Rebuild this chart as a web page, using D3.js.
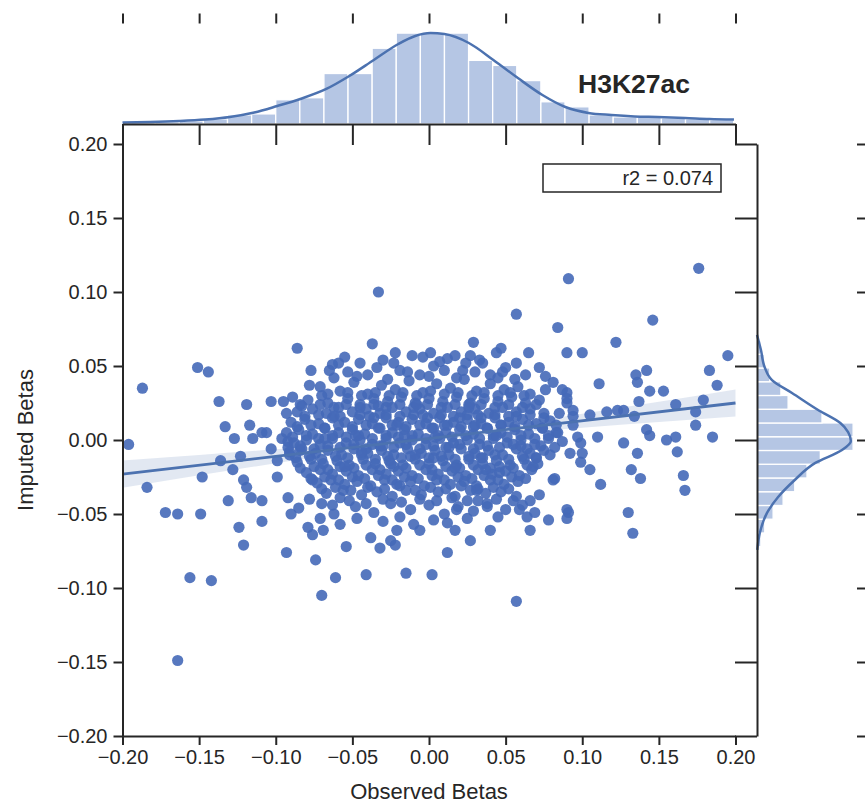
<!DOCTYPE html>
<html>
<head>
<meta charset="utf-8">
<script src="https://cdn.jsdelivr.net/npm/d3@7"></script>
<style>
  body { margin: 0; background: #fff; }
  text { font-family: "Liberation Sans", Arial, sans-serif; fill: #262626; }
</style>
</head>
<body>
<svg id="chart" width="865" height="805"></svg>
<script>
// ---- data -------------------------------------------------------------
const tickValues = [-0.20, -0.15, -0.10, -0.05, 0.00, 0.05, 0.10, 0.15, 0.20];
const xLabel = "Observed Betas";
const yLabel = "Imputed Betas";
const markTitle = "H3K27ac";
const r2Text = "r2 = 0.074";

// observed (x) / imputed (y) beta pairs
const points = [
  [0.176,0.116],[0.091,0.109],[-0.033,0.100],[0.057,0.085],[0.146,0.081],[0.084,0.076],[0.122,0.066],[0.090,0.059],[0.100,0.059],[0.195,0.057],
  [0.142,0.047],[0.135,0.044],[0.183,0.047],[0.111,0.038],[0.136,0.039],[0.144,0.033],[0.153,0.033],[0.188,0.037],[0.090,0.032],[0.090,0.025],
  [0.137,0.026],[0.161,0.024],[0.179,0.027],[0.174,0.019],[0.085,0.018],[0.094,0.016],[0.105,0.017],[0.116,0.019],[0.123,0.020],[0.127,0.020],
  [0.134,0.016],[0.094,0.010],[0.174,0.010],[0.142,0.007],[0.144,0.003],[0.110,0.002],[0.127,-0.002],[0.155,0.000],[0.161,0.002],[0.185,0.002],
  [0.099,-0.002],[0.092,-0.009],[0.136,-0.009],[0.162,-0.008],
  [0.132,-0.020],[0.138,-0.026],[0.166,-0.024],[0.167,-0.034],[0.130,-0.049],[0.133,-0.063],[0.091,-0.049],[0.105,-0.020],[0.112,-0.030],
  [0.078,-0.054],[0.057,-0.109],[0.066,-0.061],[0.072,-0.037],[0.082,-0.026],[0.099,-0.015],
  [0.002,-0.091],[-0.015,-0.090],[-0.041,-0.091],[-0.070,-0.105],[-0.061,-0.093],[-0.054,-0.072],[-0.032,-0.073],[-0.022,-0.071],[0.012,-0.076],
  [0.027,-0.068],[0.040,-0.061],[0.017,-0.061],[-0.006,-0.061],[-0.058,-0.057],[-0.076,-0.064],[-0.093,-0.076],[-0.074,-0.081],
  [-0.109,-0.055],[-0.116,-0.039],[-0.109,-0.041],[-0.131,-0.041],[-0.092,-0.039],[-0.124,-0.059],[-0.121,-0.071],[-0.149,-0.050],[-0.172,-0.049],
  [-0.164,-0.050],[-0.156,-0.093],[-0.142,-0.095],[-0.164,-0.149],[-0.184,-0.032],[-0.196,-0.003],[-0.187,0.035],[-0.151,0.049],[-0.144,0.046],
  [-0.137,0.026],[-0.119,0.024],[-0.103,0.026],[-0.095,0.026],[-0.089,0.029],[-0.093,0.018],[-0.133,0.009],[-0.117,0.010],[-0.109,0.005],
  [-0.106,0.005],[-0.127,0.001],[-0.115,0.001],[-0.096,0.001],[-0.092,-0.001],[-0.103,-0.006],[-0.123,-0.011],[-0.099,-0.014],[-0.091,-0.010],
  [-0.136,-0.014],[-0.148,-0.025],[-0.128,-0.020],[-0.121,-0.027],[-0.119,-0.032],[-0.099,-0.025],
  [-0.086,0.062],[-0.037,0.065],[0.029,0.066],[0.065,0.059],[-0.063,0.051],[-0.055,0.056],[-0.047,0.043],[-0.030,0.054],[-0.022,0.059],
  [-0.019,0.047],[-0.011,0.057],[-0.006,0.044],[0.001,0.059],[0.007,0.053],[0.017,0.057],[0.022,0.047],[0.033,0.054],[0.040,0.044],
  [0.044,0.059],[0.050,0.049],[0.056,0.041],[0.072,0.049],[0.081,0.039],[0.076,0.034],[-0.078,0.037],[-0.070,0.030],[-0.084,0.024],
  [0.047,0.062],[-0.077,0.047],[-0.065,0.047],[-0.059,0.052],[-0.023,0.052],[-0.004,0.056],[0.012,0.055],[0.027,0.057],[0.035,0.052],
  [0.048,0.046],[0.057,0.052],[0.076,0.043],[0.087,0.034],[0.090,0.028],
  [-0.084,-0.007],[-0.076,-0.027],[-0.058,-0.039],[-0.079,-0.059],[-0.069,-0.061],[-0.071,-0.053],[-0.038,-0.066],[-0.025,-0.068],[-0.021,-0.061],
  [-0.010,-0.057],[-0.019,-0.052],[0.012,-0.056],[0.018,-0.047],[0.025,-0.041],[0.031,-0.034],[0.038,-0.045],[0.046,-0.022],[0.055,-0.041],
  [0.059,-0.047],[0.064,-0.052],[0.066,-0.041],[0.068,-0.018],[0.081,-0.027],[0.090,-0.047],[0.090,-0.053],[0.100,-0.009],[0.097,0.002],
  [0.084,0.005],[0.094,0.020],
  // upper and lower fringe of the cloud
  [-0.062,0.042],[-0.053,0.046],[-0.040,0.044],[-0.027,0.041],[-0.014,0.046],[0.000,0.043],[0.010,0.047],[0.018,0.042],[0.030,0.046],
  [0.045,0.042],[0.063,0.044],[-0.034,0.049],[0.003,0.050],[0.024,0.052],[-0.045,0.052],
  [-0.078,-0.040],[-0.063,-0.044],[-0.052,-0.041],[-0.041,-0.043],[-0.030,-0.040],[-0.018,-0.042],[-0.006,-0.040],[0.005,-0.041],[0.015,-0.039],
  [0.032,-0.041],[0.044,-0.040],[-0.047,-0.053],[-0.030,-0.055],[0.003,-0.054],[0.025,-0.053],[0.045,-0.052],[-0.090,-0.050],
  // central cloud
  [-0.071,0.036],[-0.058,0.033],[-0.049,0.039],[-0.040,0.031],[-0.031,0.037],[-0.022,0.034],[-0.013,0.040],[-0.004,0.032],[0.005,0.038],
  [0.014,0.035],[0.023,0.041],[0.031,0.033],[0.040,0.038],[0.049,0.034],[0.058,0.036],[0.066,0.031],
  [-0.066,0.031],[-0.053,0.032],[-0.044,0.030],[-0.035,0.032],[-0.026,0.030],[-0.017,0.032],[-0.008,0.030],[0.001,0.033],[0.010,0.031],
  [0.019,0.032],[0.028,0.030],[0.036,0.032],[0.045,0.030],[0.053,0.032],[0.062,0.030],
  [-0.079,0.027],[-0.066,0.025],[-0.053,0.028],[-0.045,0.024],[-0.036,0.028],[-0.027,0.026],[-0.018,0.029],[-0.009,0.025],[0.000,0.028],
  [0.009,0.026],[0.018,0.029],[0.027,0.025],[0.036,0.028],[0.045,0.026],[0.054,0.029],[0.063,0.025],[0.072,0.027],
  [-0.083,0.023],[-0.071,0.024],[-0.062,0.022],[-0.054,0.024],[-0.045,0.022],[-0.036,0.024],[-0.028,0.022],[-0.019,0.024],[-0.010,0.022],
  [-0.001,0.024],[0.008,0.022],[0.017,0.024],[0.026,0.022],[0.034,0.024],[0.043,0.022],[0.052,0.024],[0.061,0.022],[0.070,0.024],
  [-0.086,0.019],[-0.076,0.021],[-0.067,0.018],[-0.059,0.022],[-0.050,0.019],[-0.041,0.021],[-0.032,0.018],[-0.024,0.022],[-0.015,0.019],
  [-0.006,0.021],[0.003,0.018],[0.012,0.022],[0.021,0.019],[0.030,0.021],[0.039,0.018],[0.048,0.022],[0.057,0.019],[0.066,0.021],[0.075,0.018],
  [-0.081,0.016],[-0.072,0.017],[-0.058,0.016],[-0.045,0.017],[-0.036,0.015],[-0.028,0.017],[-0.019,0.016],[-0.010,0.017],[-0.001,0.015],
  [0.008,0.017],[0.016,0.016],[0.025,0.017],[0.034,0.015],[0.043,0.017],[0.057,0.016],[0.066,0.017],[0.075,0.015],
  [-0.090,0.012],[-0.081,0.014],[-0.072,0.011],[-0.063,0.015],[-0.055,0.012],[-0.046,0.014],[-0.037,0.011],[-0.028,0.015],[-0.020,0.012],
  [-0.011,0.014],[-0.002,0.011],[0.007,0.015],[0.016,0.012],[0.025,0.014],[0.034,0.011],[0.043,0.015],[0.052,0.012],[0.061,0.014],[0.070,0.011],[0.079,0.013],
  [-0.086,0.009],[-0.077,0.010],[-0.068,0.008],[-0.059,0.010],[-0.050,0.009],[-0.041,0.010],[-0.032,0.008],[-0.024,0.010],[-0.015,0.009],
  [-0.006,0.010],[0.003,0.008],[0.012,0.010],[0.021,0.009],[0.030,0.010],[0.038,0.008],[0.047,0.010],[0.056,0.009],[0.065,0.010],[0.074,0.008],[0.083,0.010],
  [-0.093,0.005],[-0.085,0.007],[-0.076,0.004],[-0.068,0.008],[-0.059,0.005],[-0.050,0.007],[-0.042,0.004],[-0.033,0.008],[-0.024,0.005],
  [-0.016,0.007],[-0.007,0.004],[0.002,0.008],[0.011,0.005],[0.020,0.007],[0.029,0.004],[0.038,0.008],[0.047,0.005],[0.056,0.007],[0.065,0.004],[0.074,0.008],[0.083,0.005],
  [-0.089,0.002],[-0.080,0.003],[-0.072,0.001],[-0.063,0.003],[-0.054,0.002],[-0.046,0.003],[-0.037,0.001],[-0.028,0.003],[-0.020,0.002],
  [-0.011,0.003],[-0.002,0.001],[0.006,0.003],[0.015,0.002],[0.024,0.003],[0.033,0.001],[0.042,0.003],[0.051,0.002],[0.060,0.003],[0.069,0.001],[0.078,0.003],
  [-0.088,-0.002],[-0.080,0.000],[-0.071,-0.003],[-0.063,0.001],[-0.054,-0.002],[-0.045,0.000],[-0.037,-0.003],[-0.028,0.001],[-0.019,-0.002],
  [-0.011,0.000],[-0.002,-0.003],[0.007,0.001],[0.016,-0.002],[0.025,0.000],[0.033,-0.003],[0.042,0.001],[0.051,-0.002],[0.060,0.000],[0.069,-0.003],[0.078,0.001],[0.087,-0.001],
  [-0.092,-0.005],[-0.084,-0.004],[-0.075,-0.006],[-0.066,-0.004],[-0.058,-0.005],[-0.049,-0.003],[-0.041,-0.006],[-0.032,-0.004],[-0.023,-0.005],
  [-0.015,-0.003],[-0.006,-0.006],[0.003,-0.004],[0.011,-0.005],[0.020,-0.003],[0.029,-0.006],[0.038,-0.004],[0.046,-0.005],[0.055,-0.003],[0.064,-0.006],[0.073,-0.004],[0.082,-0.005],
  [-0.091,-0.008],[-0.083,-0.006],[-0.074,-0.009],[-0.066,-0.007],[-0.057,-0.010],[-0.049,-0.006],[-0.040,-0.009],[-0.031,-0.007],[-0.023,-0.010],
  [-0.014,-0.006],[-0.005,-0.009],[0.004,-0.007],[0.013,-0.010],[0.021,-0.006],[0.030,-0.009],[0.039,-0.007],[0.048,-0.010],[0.057,-0.006],[0.066,-0.009],[0.075,-0.007],
  [-0.087,-0.012],[-0.078,-0.011],[-0.070,-0.013],[-0.061,-0.011],[-0.053,-0.012],[-0.044,-0.010],[-0.035,-0.013],[-0.027,-0.011],[-0.018,-0.012],
  [-0.009,-0.010],[0.000,-0.012],[0.008,-0.011],[0.017,-0.013],[0.026,-0.011],[0.034,-0.012],[0.043,-0.010],[0.052,-0.013],[0.061,-0.011],[0.070,-0.012],[0.079,-0.010],
  [-0.086,-0.015],[-0.077,-0.013],[-0.069,-0.016],[-0.060,-0.014],[-0.052,-0.017],[-0.043,-0.013],[-0.035,-0.016],[-0.026,-0.014],[-0.017,-0.017],
  [-0.009,-0.013],[0.000,-0.016],[0.009,-0.014],[0.018,-0.017],[0.026,-0.013],[0.035,-0.016],[0.044,-0.014],[0.053,-0.017],[0.062,-0.013],[0.071,-0.016],
  [-0.084,-0.019],[-0.075,-0.018],[-0.066,-0.020],[-0.058,-0.018],[-0.049,-0.019],[-0.041,-0.017],[-0.032,-0.020],[-0.023,-0.018],[-0.015,-0.019],
  [-0.006,-0.017],[0.002,-0.020],[0.011,-0.018],[0.020,-0.019],[0.029,-0.017],[0.037,-0.020],[0.046,-0.018],[0.055,-0.019],[0.064,-0.017],
  [-0.080,-0.022],[-0.071,-0.020],[-0.063,-0.023],[-0.054,-0.021],[-0.046,-0.024],[-0.037,-0.020],[-0.028,-0.023],[-0.020,-0.021],[-0.011,-0.024],
  [-0.002,-0.020],[0.006,-0.023],[0.015,-0.021],[0.024,-0.024],[0.032,-0.020],[0.041,-0.023],[0.050,-0.021],[0.059,-0.024],[0.067,-0.020],
  [-0.077,-0.026],[-0.068,-0.025],[-0.059,-0.027],[-0.050,-0.025],[-0.042,-0.026],[-0.033,-0.024],[-0.024,-0.027],[-0.016,-0.025],[-0.007,-0.026],
  [0.002,-0.024],[0.010,-0.027],[0.019,-0.025],[0.028,-0.026],[0.036,-0.024],[0.045,-0.027],[0.054,-0.025],[0.063,-0.026],
  [-0.073,-0.029],[-0.064,-0.027],[-0.055,-0.030],[-0.047,-0.028],[-0.038,-0.031],[-0.029,-0.027],[-0.021,-0.030],[-0.012,-0.028],[-0.003,-0.031],
  [0.005,-0.027],[0.014,-0.030],[0.023,-0.028],[0.031,-0.031],[0.040,-0.027],[0.049,-0.030],[0.058,-0.028],
  [-0.070,-0.033],[-0.061,-0.032],[-0.051,-0.034],[-0.040,-0.032],[-0.029,-0.033],[-0.019,-0.031],[-0.009,-0.034],[0.001,-0.032],[0.011,-0.033],
  [0.021,-0.031],[0.032,-0.033],[0.042,-0.032],[0.052,-0.033],
  [-0.067,-0.036],[-0.056,-0.034],[-0.044,-0.037],[-0.034,-0.035],[-0.024,-0.038],[-0.015,-0.034],[-0.005,-0.037],[0.006,-0.035],[0.017,-0.038],
  [0.027,-0.034],[0.037,-0.036],[0.047,-0.035],[0.057,-0.038],
  [-0.085,-0.046],[-0.070,-0.043],[-0.062,-0.050],[-0.048,-0.045],[-0.036,-0.049],[-0.025,-0.043],[-0.012,-0.047],[0.000,-0.044],[0.010,-0.050],
  [0.019,-0.045],[0.029,-0.048],[0.038,-0.043],[0.050,-0.047],[0.061,-0.044],[0.069,-0.049],
  [-0.062,0.016],[-0.048,0.003],[-0.039,0.016],[-0.030,-0.004],[-0.021,0.010],[-0.012,-0.011],[-0.004,0.017],[0.004,0.002],[0.013,-0.005],
  [0.020,0.015],[0.029,0.009],[0.035,-0.012],[0.044,0.003],[0.052,0.016],[0.060,-0.004],[-0.055,-0.018],[-0.033,0.023],[-0.008,0.024],
  [0.017,-0.019],[0.040,-0.019],[0.003,-0.012],[-0.025,-0.016],[0.026,0.024],[-0.044,-0.008],[0.047,0.010],[-0.068,0.001],[0.070,-0.012],
  [0.010,0.010],[-0.016,0.003],[0.032,0.017]
];

// fitted line and its confidence band half-width
const fitSlope = 0.12;
const fitIntercept = 0.001;
const bandX    = [-0.20, -0.15, -0.10, -0.05, 0.00, 0.05, 0.10, 0.15, 0.20];
const bandHalf = [0.0092, 0.0069, 0.0047, 0.0027, 0.0016, 0.0027, 0.0047, 0.0069, 0.0092];

// marginal histogram of observed betas (density per bin)
const topBinStart = -0.1944;
const topBinWidth = 0.01573;
const topBinDensity = [0.2, 0.2, 0.3, 0.5, 0.9, 1.0, 2.4, 2.6, 5.0, 5.0, 7.5, 9.0, 9.0, 9.0, 6.3, 5.8, 4.3, 2.2, 1.7, 0.9, 0.7, 0.7, 0.6, 0.5, 0.4];
// kernel density of observed betas
const topKdeX = [-0.200, -0.182, -0.163, -0.146, -0.130, -0.114, -0.099, -0.084, -0.067, -0.052, -0.036, -0.020, -0.009, 0.001, 0.010, 0.026, 0.042, 0.058, 0.074, 0.089, 0.104, 0.119, 0.134, 0.149, 0.167, 0.183, 0.199];
const topKdeDensity = [0.15, 0.2, 0.3, 0.45, 0.7, 1.14, 1.78, 2.48, 3.47, 4.75, 6.34, 7.92, 8.71, 9.0, 8.9, 8.02, 6.34, 4.55, 2.87, 1.68, 1.09, 0.89, 0.75, 0.69, 0.6, 0.5, 0.45];

// marginal histogram of imputed betas (density per bin, from the lowest bin up)
const rightBinStart = -0.0814;
const rightBinWidth = 0.00929;
const rightBinDensity = [0.3, 0.7, 1.4, 2.9, 4.7, 6.8, 9.0, 11.4, 17.3, 17.3, 11.7, 5.6, 4.3, 2.3, 1.3, 0.7, 0.3];
// kernel density of imputed betas
const rightKdeY = [0.071, 0.061, 0.049, 0.0405, 0.0318, 0.0203, 0.0115, 0.0054, -0.0007, -0.0068, -0.0155, -0.027, -0.0385, -0.0493, -0.0628, -0.0743];
const rightKdeDensity = [0, 0.7, 1.4, 2.7, 6.3, 11.0, 15.0, 16.4, 16.9, 15.3, 10.5, 6.8, 3.8, 1.8, 0.5, 0.05];

// ---- layout ------------------------------------------------------------
const svg = d3.select("#chart");
const ink = "#262626";
const dotBlue = "#4569b8";
const lineBlue = "#4c72b0";
const histFill = "#b5c6e4";

const x = d3.scaleLinear().domain([-0.2, 0.2]).range([122.5, 735.5]);
const y = d3.scaleLinear().domain([-0.2, 0.2]).range([736, 144]);
const topY = d3.scaleLinear().domain([0, 10]).range([124, 23]);
const rightX = d3.scaleLinear().domain([0, 18]).range([757, 857]);
const fmt = d3.format(".2f");

function styleAxis(g, showDomain) {
  g.selectAll(".tick line").attr("stroke", ink).attr("stroke-width", 2);
  g.select(".domain").attr("stroke", ink).attr("stroke-width", 2);
  if (!showDomain) g.select(".domain").remove();
  g.selectAll(".tick text").attr("font-size", 20).attr("fill", ink)
    .style("font-family", '"Liberation Sans", Arial, sans-serif');
}

// ---- top marginal ------------------------------------------------------
const topG = svg.append("g");
topG.selectAll("rect").data(topBinDensity).join("rect")
  .attr("x", (d, i) => x(topBinStart + i * topBinWidth))
  .attr("width", (d, i) => x(topBinStart + (i + 1) * topBinWidth) - x(topBinStart + i * topBinWidth))
  .attr("y", d => topY(d))
  .attr("height", d => topY(0) - topY(d))
  .attr("fill", histFill).attr("stroke", "#fff").attr("stroke-width", 1.3);
topG.append("path")
  .datum(topKdeX.map((v, i) => [v, topKdeDensity[i]]))
  .attr("fill", "none").attr("stroke", lineBlue).attr("stroke-width", 2.5)
  .attr("d", d3.line().x(d => x(d[0])).y(d => topY(d[1])).curve(d3.curveMonotoneX));

svg.append("g").attr("transform", "translate(0,124)")
  .call(d3.axisBottom(x).tickValues(tickValues).tickSize(21).tickSizeOuter(0).tickFormat(""))
  .call(g => styleAxis(g, true));
svg.append("g").attr("transform", "translate(0,23.5)")
  .call(d3.axisTop(x).tickValues(tickValues).tickSize(10).tickSizeOuter(0).tickFormat(""))
  .call(g => styleAxis(g, false));

svg.append("text").attr("x", 578).attr("y", 93)
  .attr("font-size", 26.5).attr("font-weight", "bold").attr("fill", "#111")
  .text(markTitle);

// ---- right marginal ----------------------------------------------------
const rightG = svg.append("g");
rightG.selectAll("rect").data(rightBinDensity).join("rect")
  .attr("x", rightX(0))
  .attr("y", (d, i) => y(rightBinStart + (i + 1) * rightBinWidth))
  .attr("height", (d, i) => y(rightBinStart + i * rightBinWidth) - y(rightBinStart + (i + 1) * rightBinWidth))
  .attr("width", d => rightX(d) - rightX(0))
  .attr("fill", histFill).attr("stroke", "#fff").attr("stroke-width", 1.3);
rightG.append("path")
  .datum(rightKdeY.map((v, i) => [v, rightKdeDensity[i]]))
  .attr("fill", "none").attr("stroke", lineBlue).attr("stroke-width", 2.5)
  .attr("d", d3.line().x(d => rightX(d[1])).y(d => y(d[0])).curve(d3.curveMonotoneY));

svg.append("g").attr("transform", "translate(757,0)")
  .call(d3.axisLeft(y).tickValues(tickValues).tickSize(22).tickSizeOuter(0).tickFormat(""))
  .call(g => styleAxis(g, true));
svg.append("g").attr("transform", "translate(857,0)")
  .call(d3.axisRight(y).tickValues(tickValues).tickSize(10).tickSizeOuter(0).tickFormat(""))
  .call(g => styleAxis(g, false));

// ---- joint panel -------------------------------------------------------
const bandData = bandX.map((v, i) => [v, fitIntercept + fitSlope * v, bandHalf[i]]);
svg.append("path").datum(bandData)
  .attr("fill", lineBlue).attr("fill-opacity", 0.16)
  .attr("d", d3.area().x(d => x(d[0])).y0(d => y(d[1] - d[2])).y1(d => y(d[1] + d[2])).curve(d3.curveMonotoneX));

svg.append("g").selectAll("circle").data(points).join("circle")
  .attr("cx", d => x(d[0])).attr("cy", d => y(d[1])).attr("r", 5.6)
  .attr("fill", dotBlue).attr("fill-opacity", 0.9);

svg.append("line")
  .attr("x1", x(-0.2)).attr("y1", y(fitIntercept + fitSlope * -0.2))
  .attr("x2", x(0.2)).attr("y2", y(fitIntercept + fitSlope * 0.2))
  .attr("stroke", lineBlue).attr("stroke-width", 2.8);

svg.append("g").attr("transform", "translate(0,736)")
  .call(d3.axisBottom(x).tickValues(tickValues).tickSize(9).tickSizeOuter(0).tickPadding(5).tickFormat(fmt))
  .call(g => styleAxis(g, true));
svg.append("g").attr("transform", "translate(122.5,0)")
  .call(d3.axisLeft(y).tickValues(tickValues).tickSize(9).tickSizeOuter(0).tickPadding(6).tickFormat(fmt))
  .call(g => styleAxis(g, true));

// r-squared annotation
svg.append("rect").attr("x", 543).attr("y", 164).attr("width", 178).attr("height", 28)
  .attr("fill", "#fff").attr("stroke", ink).attr("stroke-width", 1.5);
svg.append("text").attr("x", 713).attr("y", 185).attr("text-anchor", "end")
  .attr("font-size", 20).attr("fill", "#333").text(r2Text);

// axis titles
svg.append("text").attr("x", 429).attr("y", 799).attr("text-anchor", "middle")
  .attr("font-size", 22).attr("fill", "#333").text(xLabel);
svg.append("text").attr("transform", "translate(33,440) rotate(-90)").attr("text-anchor", "middle")
  .attr("font-size", 22).attr("fill", "#333").text(yLabel);
</script>
</body>
</html>
